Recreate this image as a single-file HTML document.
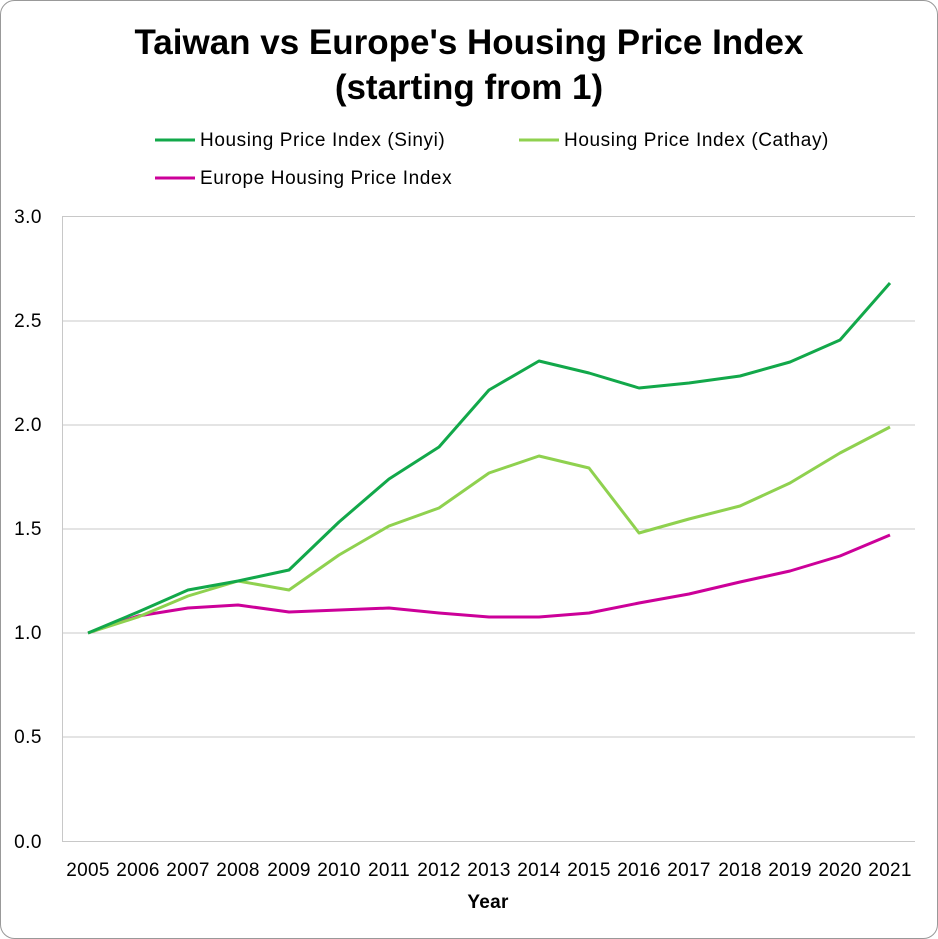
<!DOCTYPE html>
<html><head><meta charset="utf-8"><style>
body{margin:0;background:#fff;}
svg{display:block;font-family:"Liberation Sans",sans-serif;}
</style></head><body>
<svg width="938" height="939" viewBox="0 0 938 939">
<rect x="0.5" y="0.5" width="937" height="938" rx="14" fill="#fff" stroke="#999"/>
<text x="469" y="54" text-anchor="middle" font-size="35" font-weight="bold" fill="#000">Taiwan vs Europe's Housing Price Index</text>
<text x="469" y="99" text-anchor="middle" font-size="35" font-weight="bold" fill="#000">(starting from 1)</text>
<g font-size="19" fill="#000" letter-spacing="0.6">
<line x1="155" y1="140" x2="195" y2="140" stroke="#12a84a" stroke-width="3"/>
<text x="200" y="146">Housing Price Index (Sinyi)</text>
<line x1="519" y1="140" x2="559" y2="140" stroke="#8fd14f" stroke-width="3"/>
<text x="564" y="146">Housing Price Index (Cathay)</text>
<line x1="155" y1="178" x2="195" y2="178" stroke="#cc0099" stroke-width="3"/>
<text x="200" y="184">Europe Housing Price Index</text>
</g>
<g stroke="#c8c8c8" stroke-width="1">
<line x1="62" y1="216.5" x2="915" y2="216.5"/>
<line x1="62" y1="321" x2="915" y2="321"/>
<line x1="62" y1="425" x2="915" y2="425"/>
<line x1="62" y1="529" x2="915" y2="529"/>
<line x1="62" y1="633" x2="915" y2="633"/>
<line x1="62" y1="737" x2="915" y2="737"/>
<line x1="62" y1="841.5" x2="915" y2="841.5"/>
<line x1="62.5" y1="216" x2="62.5" y2="842"/>
</g>
<g font-size="19" text-anchor="end" fill="#000" letter-spacing="0.5">
<text x="42" y="223">3.0</text><text x="42" y="327">2.5</text><text x="42" y="431">2.0</text>
<text x="42" y="535">1.5</text><text x="42" y="639">1.0</text><text x="42" y="743">0.5</text><text x="42" y="848">0.0</text>
</g>
<g font-size="19" text-anchor="middle" fill="#000" letter-spacing="0.3">
<text x="88" y="876">2005</text><text x="138" y="876">2006</text><text x="188" y="876">2007</text><text x="238" y="876">2008</text>
<text x="289" y="876">2009</text><text x="339" y="876">2010</text><text x="389" y="876">2011</text><text x="439" y="876">2012</text>
<text x="489" y="876">2013</text><text x="539" y="876">2014</text><text x="589" y="876">2015</text><text x="639" y="876">2016</text>
<text x="689" y="876">2017</text><text x="740" y="876">2018</text><text x="790" y="876">2019</text><text x="840" y="876">2020</text>
<text x="890" y="876">2021</text>
<text x="488" y="908" font-weight="bold">Year</text>
</g>
<g fill="none" stroke-width="3" stroke-linejoin="round">
<polyline stroke="#cc0099" points="88,633 138,616 188,608 238,605 289,612 339,610 389,608 439,613 489,617 539,617 589,613 639,603 689,594 740,582 790,571 840,556 890,535"/>
<polyline stroke="#8fd14f" points="88,633 138,617 188,596 238,581 289,590 339,555 389,526 439,508 489,473 539,456 589,468 639,533 689,519 740,506 790,483 840,453 890,427"/>
<polyline stroke="#12a84a" points="88,633 138,612 188,590 238,581 289,570 339,522 389,479 439,447 489,390 539,361 589,373 639,388 689,383 740,376 790,362 840,340 890,283"/>
</g>
</svg>
</body></html>
